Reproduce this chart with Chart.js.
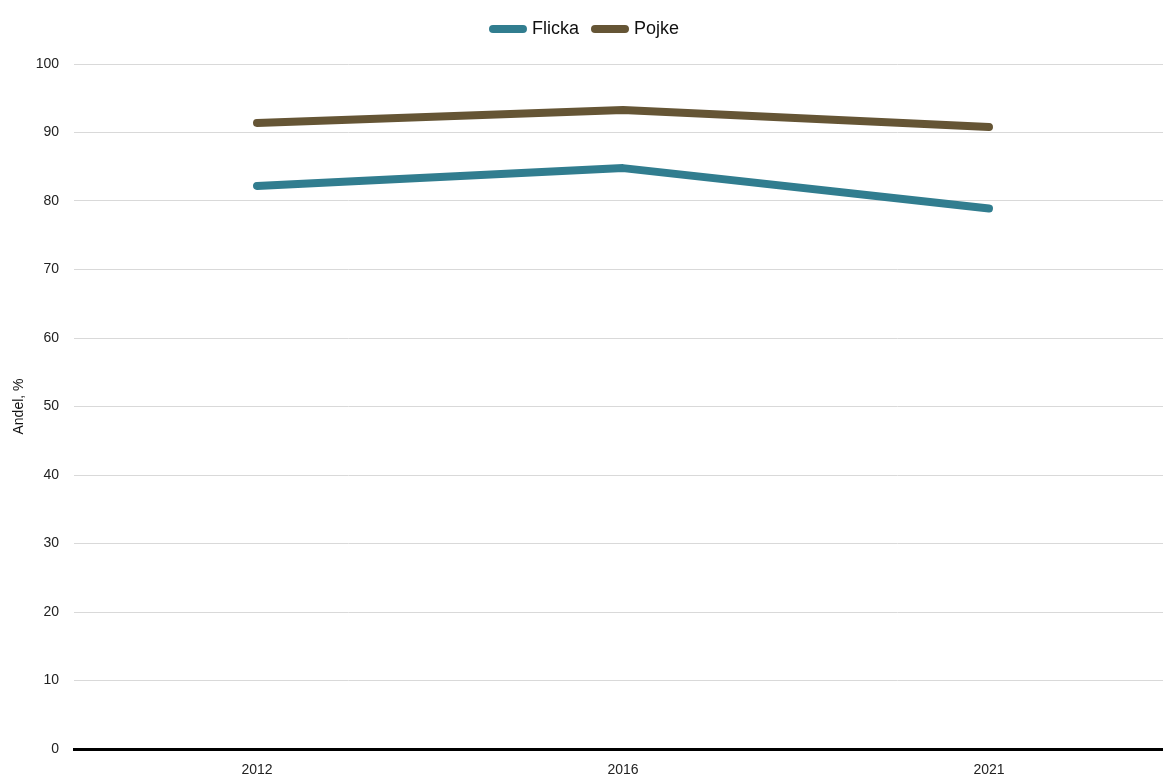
<!DOCTYPE html>
<html>
<head>
<meta charset="utf-8">
<script src="https://cdn.jsdelivr.net/npm/chart.js@4"></script>
<style>
  html, body { margin: 0; padding: 0; background: #fff; overflow: hidden; }
  #wrap { width: 1163px; height: 777px; overflow: hidden; }
</style>
</head>
<body>
<div id="wrap"><canvas id="c" width="1172" height="777"></canvas></div>
<script>
const years = ['2012', '2016', '2021'];
const flicka = [82.2, 84.8, 78.9];
const pojke = [91.4, 93.3, 90.8];
const yTicks = [0, 10, 20, 30, 40, 50, 60, 70, 80, 90, 100];

const FONT = '"Liberation Sans", Arial, sans-serif';
Chart.defaults.font.family = FONT;
Chart.defaults.color = '#222';

// fixed legend block height so the plot starts at the same place
const legendSpacing = {
  id: 'legendSpacing',
  beforeInit(chart) {
    const fit = chart.legend.fit;
    chart.legend.fit = function () {
      fit.call(this);
      this.height = 60;
    };
  }
};

new Chart(document.getElementById('c'), {
  type: 'line',
  data: {
    labels: years,
    datasets: [
      { label: 'Flicka', data: flicka, borderColor: '#317d8f', backgroundColor: '#317d8f',
        borderWidth: 8, borderCapStyle: 'round', borderJoinStyle: 'round', pointRadius: 0, tension: 0 },
      { label: 'Pojke', data: pojke, borderColor: '#655535', backgroundColor: '#655535',
        borderWidth: 8, borderCapStyle: 'round', borderJoinStyle: 'round', pointRadius: 0, tension: 0 }
    ]
  },
  options: {
    responsive: false,
    animation: false,
    layout: { padding: { left: 0, right: 0, top: 4, bottom: 0 } },
    plugins: {
      legend: {
        position: 'top',
        labels: {
          usePointStyle: true,
          pointStyle: 'line',
          pointStyleWidth: 30,
          boxHeight: 8,
          padding: 16,
          font: { size: 18 },
          color: '#111',
          generateLabels(chart) {
            const items = Chart.defaults.plugins.legend.labels.generateLabels(chart);
            items.forEach(it => { it.lineCap = 'round'; it.lineWidth = 8; });
            return items;
          }
        }
      },
      tooltip: { enabled: false }
    },
    scales: {
      x: {
        offset: true,
        grid: { display: false },
        border: { display: true, color: '#000', width: 3 },
        ticks: { font: { size: 14 }, color: '#222', padding: 5, maxRotation: 0 },
        afterFit(scale) { scale.height = 28; }
      },
      y: {
        min: 0, max: 100,
        afterBuildTicks(scale) { scale.ticks = yTicks.map(v => ({ value: v })); },
        grid: { color: '#d9d9d9', lineWidth: 1, drawTicks: false },
        border: { display: false },
        ticks: { font: { size: 14 }, color: '#222', padding: 15 },
        title: { display: true, text: 'Andel, %', font: { size: 14 }, color: '#111', padding: { top: 11, bottom: 0 } },
        afterFit(scale) { scale.width = 74; }
      }
    }
  },
  plugins: [legendSpacing]
});
</script>
</body>
</html>
